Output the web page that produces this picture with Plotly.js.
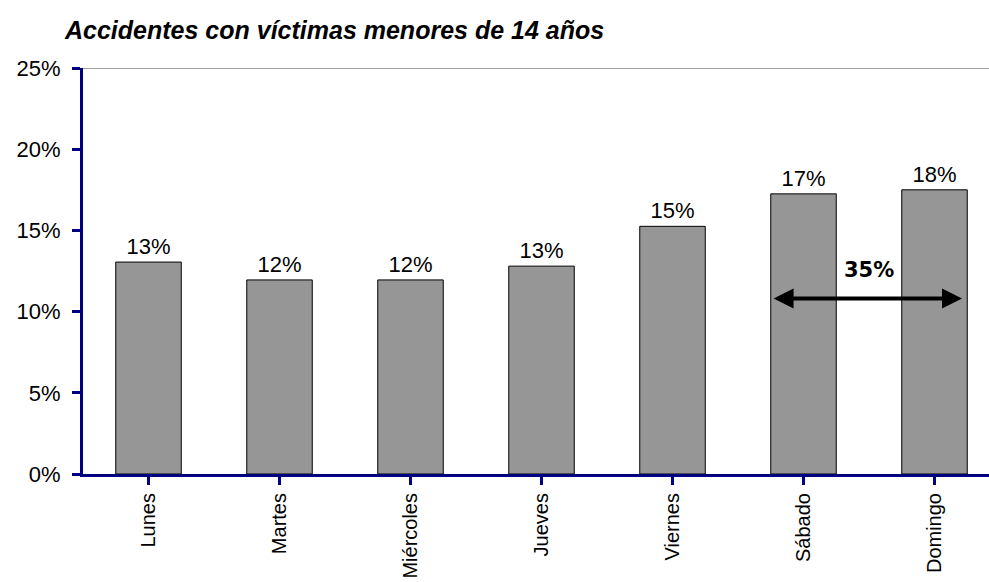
<!DOCTYPE html>
<html>
<head>
<meta charset="utf-8">
<script src="https://cdn.plot.ly/plotly-3.0.1.min.js"></script>
<style>
  html, body { margin: 0; padding: 0; background: #fff; }
  #chart { width: 989px; height: 582px; }
</style>
</head>
<body>
<div id="chart"></div>
<script>
var days = ['Lunes', 'Martes', 'Miércoles', 'Jueves', 'Viernes', 'Sábado', 'Domingo'];
var pct = [13.05, 11.95, 11.95, 12.8, 15.25, 17.25, 17.5];
var pctLabels = ['13%', '12%', '12%', '13%', '15%', '17%', '18%'];

// weekend share shown with the double arrow
var weekendShare = '35%';
var arrowLevel = 10.8;

var navy = '#000080';

var trace = {
  x: [0, 1, 2, 3, 4, 5, 6],
  y: pct,
  type: 'bar',
  width: 0.5,
  marker: { color: '#969696', line: { color: '#000', width: 1 } },
  text: pctLabels,
  textposition: 'outside',
  cliponaxis: false,
  textfont: { family: 'Liberation Sans, Arial, sans-serif', size: 22, color: '#000' },
  hoverinfo: 'none'
};

var layout = {
  width: 989,
  height: 582,
  margin: { l: 83, r: 0, t: 68, b: 108 },
  paper_bgcolor: '#fff',
  plot_bgcolor: '#fff',
  showlegend: false,
  font: { family: 'Liberation Sans, Arial, sans-serif', color: '#000' },
  title: {
    text: '<b><i>Accidentes con víctimas menores de 14 años</i></b>',
    font: { family: 'Liberation Sans, Arial, sans-serif', size: 25, color: '#000' },
    x: 65 / 989, xref: 'container', xanchor: 'left',
    y: 1 - 30 / 582, yref: 'container', yanchor: 'middle'
  },
  xaxis: {
    range: [-0.5, 6.416],
    tickmode: 'array',
    tickvals: [0, 1, 2, 3, 4, 5, 6],
    ticktext: days,
    tickangle: -90,
    tickson: 'boundaries',
    ticks: 'outside',
    ticklen: 8,
    tickwidth: 3,
    tickcolor: navy,
    showline: true,
    linecolor: navy,
    linewidth: 3,
    showgrid: false,
    zeroline: false,
    tickfont: { size: 20, color: '#000' },
    fixedrange: true
  },
  yaxis: {
    range: [0, 25],
    dtick: 5,
    ticksuffix: '%',
    ticks: 'outside',
    ticklen: 8,
    tickwidth: 3,
    tickcolor: navy,
    ticklabelstandoff: 7,
    showline: true,
    linecolor: navy,
    linewidth: 3,
    showgrid: false,
    zeroline: false,
    tickfont: { size: 22, color: '#000' },
    fixedrange: true
  },
  shapes: [{
    type: 'line', xref: 'paper', yref: 'y',
    x0: 0, x1: 1, y0: 25, y1: 25,
    line: { color: '#808080', width: 1.5 },
    layer: 'below'
  }],
  annotations: [{
    x: 6.21, y: arrowLevel, ax: 4.76, ay: arrowLevel,
    xref: 'x', yref: 'y', axref: 'x', ayref: 'y',
    text: '', showarrow: true,
    arrowside: 'end+start', arrowhead: 2, arrowsize: 1, arrowwidth: 4, arrowcolor: '#000'
  }, {
    x: 5.5, y: arrowLevel, xref: 'x', yref: 'y',
    text: '<b>' + weekendShare + '</b>', showarrow: false,
    yshift: 29,
    font: { family: 'DejaVu Sans, Verdana, sans-serif', size: 21, color: '#000' }
  }]
};

Plotly.newPlot('chart', [trace], layout, { displayModeBar: false, staticPlot: true });
</script>
</body>
</html>
